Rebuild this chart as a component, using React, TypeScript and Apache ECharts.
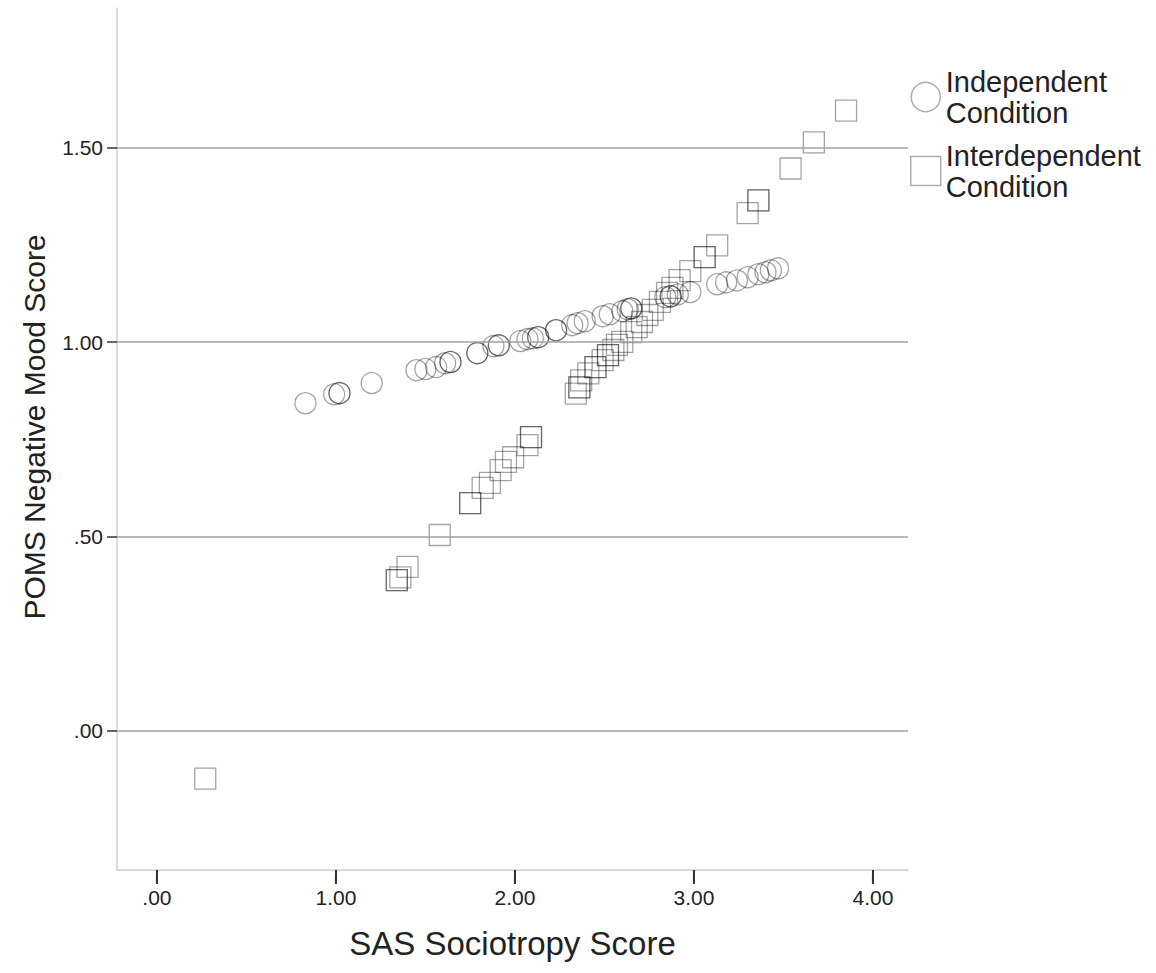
import React, { useEffect, useRef } from "react";
import * as echarts from "echarts";

// SAS sociotropy (x) vs POMS negative mood (y), one list per condition
const independentPoints: [number, number][] = [
  [0.83, 0.843], [0.99, 0.866], [1.02, 0.869], [1.02, 0.869], [1.2, 0.895],
  [1.45, 0.928], [1.5, 0.931], [1.56, 0.936], [1.61, 0.946], [1.64, 0.949], [1.64, 0.949],
  [1.79, 0.972], [1.79, 0.972], [1.88, 0.99], [1.91, 0.992], [1.91, 0.992],
  [2.03, 1.003], [2.07, 1.008], [2.1, 1.01], [2.13, 1.013], [2.13, 1.013],
  [2.23, 1.031], [2.23, 1.031], [2.32, 1.044], [2.35, 1.049], [2.39, 1.054],
  [2.49, 1.067], [2.53, 1.072], [2.6, 1.08], [2.63, 1.085], [2.65, 1.087], [2.65, 1.087],
  [2.84, 1.116], [2.87, 1.118], [2.87, 1.118], [2.91, 1.123], [2.98, 1.129],
  [3.13, 1.149], [3.18, 1.154], [3.24, 1.159], [3.3, 1.167], [3.36, 1.175],
  [3.4, 1.18], [3.43, 1.185], [3.47, 1.19],
];

const interdependentPoints: [number, number][] = [
  [0.27, -0.123],
  [1.34, 0.388], [1.34, 0.388], [1.36, 0.395], [1.4, 0.422],
  [1.58, 0.504],
  [1.75, 0.586], [1.75, 0.586], [1.82, 0.625], [1.86, 0.638], [1.92, 0.671],
  [1.95, 0.692], [1.99, 0.704], [2.07, 0.735], [2.09, 0.756], [2.09, 0.756],
  [2.34, 0.868], [2.36, 0.884], [2.36, 0.884], [2.37, 0.902], [2.41, 0.92],
  [2.45, 0.936], [2.45, 0.936], [2.49, 0.954], [2.52, 0.967], [2.52, 0.967],
  [2.55, 0.98], [2.57, 0.993], [2.6, 1.001], [2.65, 1.026], [2.68, 1.039],
  [2.71, 1.052], [2.74, 1.07], [2.77, 1.083], [2.81, 1.104], [2.85, 1.127],
  [2.88, 1.14], [2.92, 1.16], [2.98, 1.183], [3.06, 1.219], [3.06, 1.219],
  [3.13, 1.249], [3.3, 1.332], [3.36, 1.365], [3.36, 1.365],
  [3.54, 1.447], [3.67, 1.514], [3.85, 1.596],
];

const seriesNames = ["Independent\nCondition", "Interdependent\nCondition"];
const xTickValues = [0, 1, 2, 3, 4];
const yTickValues = [0, 0.5, 1, 1.5];
const xTitle = "SAS Sociotropy Score";
const yTitle = "POMS Negative Mood Score";

const X_MIN = -0.223;
const X_MAX = 4.196;
const Y_MIN = -0.358;
const Y_MAX = 1.86;

const FONT = '"Liberation Sans", Arial, sans-serif';

// SPSS style: drop the leading zero (".50", ".00")
const fmt = (v: number) => v.toFixed(2).replace(/^(-?)0\./, "$1.");

const markerStyle = {
  color: "rgba(0,0,0,0)",
  borderColor: "rgba(0,0,0,0.45)",
  borderWidth: 1.3,
};

export default function App() {
  const ref = useRef<HTMLDivElement>(null);

  useEffect(() => {
    if (!ref.current) return;
    const chart = echarts.init(ref.current, undefined, { renderer: "svg" });
    chart.setOption({
      animation: false,
      backgroundColor: "#ffffff",
      grid: { left: 117, top: 8, width: 791, height: 862, containLabel: false },
      legend: {
        orient: "vertical",
        left: 910,
        top: 66,
        padding: 0,
        itemWidth: 30,
        itemHeight: 29,
        itemGap: 12,
        data: [
          { name: seriesNames[0], icon: "circle" },
          { name: seriesNames[1], icon: "rect" },
        ],
        itemStyle: { color: "rgba(0,0,0,0)", borderColor: "#9a9a9a", borderWidth: 1.5 },
        textStyle: { fontFamily: FONT, fontSize: 29, lineHeight: 31, color: "#222" },
        selectedMode: false,
      },
      xAxis: {
        type: "value",
        min: X_MIN,
        max: X_MAX,
        axisLine: { show: true, onZero: false, lineStyle: { color: "#cfcfcf", width: 1.5 } },
        axisTick: {
          show: true,
          inside: false,
          customValues: xTickValues,
          length: 12,
          lineStyle: { color: "#333333", width: 2 },
        },
        axisLabel: {
          show: true,
          customValues: xTickValues,
          formatter: fmt,
          margin: 17,
          fontFamily: FONT,
          fontSize: 21,
          color: "#222",
        },
        splitLine: { show: false },
        name: xTitle,
        nameLocation: "middle",
        nameGap: 57,
        nameTextStyle: { fontFamily: FONT, fontSize: 33, color: "#222" },
      },
      yAxis: {
        type: "value",
        min: Y_MIN,
        max: Y_MAX,
        axisLine: { show: true, onZero: false, lineStyle: { color: "#cfcfcf", width: 1.5 } },
        axisTick: {
          show: true,
          customValues: yTickValues,
          length: 10,
          lineStyle: { color: "#333", width: 1.5 },
        },
        axisLabel: {
          show: true,
          customValues: yTickValues,
          formatter: fmt,
          margin: 14,
          fontFamily: FONT,
          fontSize: 21,
          color: "#222",
        },
        splitLine: { show: false },
      },
      graphic: [
        {
          type: "text",
          x: 34,
          y: 427,
          rotation: Math.PI / 2,
          silent: true,
          style: {
            text: yTitle,
            align: "center",
            verticalAlign: "middle",
            fontFamily: FONT,
            fontSize: 30,
            fill: "#222",
          },
        },
      ],
      series: [
        {
          name: seriesNames[0],
          type: "scatter",
          symbol: "circle",
          symbolSize: 21,
          itemStyle: markerStyle,
          data: independentPoints,
          markLine: {
            silent: true,
            symbol: "none",
            label: { show: false },
            lineStyle: { color: "#a0a0a0", width: 1.5, type: "solid" },
            data: yTickValues.map((v) => ({ yAxis: v })),
          },
        },
        {
          name: seriesNames[1],
          type: "scatter",
          symbol: "rect",
          symbolSize: 21,
          itemStyle: markerStyle,
          data: interdependentPoints,
        },
        {
          // x tick marks, hung just below the axis line
          name: "xTickMarks",
          type: "scatter",
          silent: true,
          clip: false,
          z: 10,
          symbol: "rect",
          symbolSize: [2, 10],
          symbolOffset: [0, 9],
          itemStyle: { color: "#333333", opacity: 1 },
          data: xTickValues.map((v) => [v, Y_MIN]),
        },
      ],
    });
    return () => chart.dispose();
  }, []);

  return (
    <div
      ref={ref}
      style={{ position: "fixed", left: 0, top: 0, width: 1156, height: 973, background: "#fff" }}
    />
  );
}
